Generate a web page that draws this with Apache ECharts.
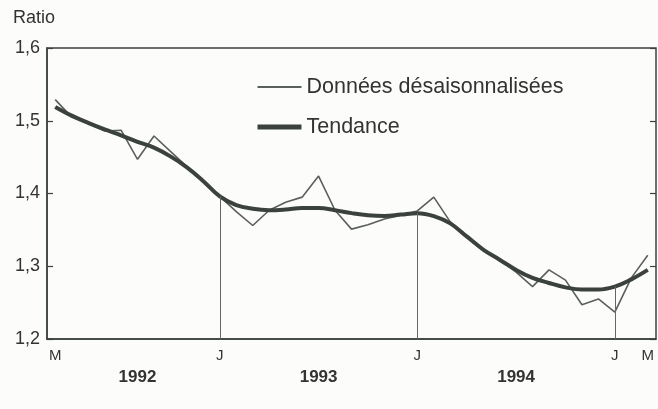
<!DOCTYPE html>
<html>
<head>
<meta charset="utf-8">
<script src="https://cdn.jsdelivr.net/npm/echarts@6/dist/echarts.min.js"></script>
<style>
  html, body { margin: 0; padding: 0; background: #fcfcfa; }
  #chart { width: 658px; height: 409px; }
</style>
</head>
<body>
<div id="chart"></div>
<script>
"use strict"

// one entry per month, March 1992 .. March 1995
const months = [
  "M", "A", "M", "J", "J", "A", "S", "O", "N", "D",
  "J", "F", "M", "A", "M", "J", "J", "A", "S", "O", "N", "D",
  "J", "F", "M", "A", "M", "J", "J", "A", "S", "O", "N", "D",
  "J", "F", "M"
];

// months that carry a letter under the axis
const labelledMonths = [0, 10, 22, 34, 36];

// january of 1993, 1994, 1995: a thin line up to the trend
const januaryIdx = [10, 22, 34];

const years = ["1992", "1993", "1994"];
const yearIdx = [5, 16, 28];

const yTicks = [1.2, 1.3, 1.4, 1.5, 1.6];

const rawData = [
  1.529, 1.505, 1.497, 1.486, 1.487, 1.447, 1.479, 1.458, 1.437, 1.417,
  1.396, 1.375, 1.356, 1.377, 1.388, 1.395, 1.424, 1.377, 1.351, 1.357, 1.365, 1.370,
  1.376, 1.395, 1.361, 1.340, 1.322, 1.309, 1.292, 1.272, 1.295, 1.281, 1.247, 1.255,
  1.237, 1.284, 1.315
];

const trendData = [
  1.519, 1.507, 1.497, 1.488, 1.480, 1.471, 1.463, 1.451, 1.436, 1.417,
  1.396, 1.384, 1.379, 1.377, 1.378, 1.380, 1.380, 1.377, 1.373, 1.370, 1.369, 1.371,
  1.373, 1.369, 1.359, 1.341, 1.323, 1.309, 1.295, 1.284, 1.277, 1.271, 1.268, 1.268,
  1.272, 1.282, 1.295
];

const ink = "#3b423e";
const font = "'Liberation Sans', Arial, Helvetica, sans-serif";

const chart = echarts.init(document.getElementById("chart"));

const januaryLines = januaryIdx.map((i) => [
  { coord: [i, yTicks[0]] },
  { coord: [i, trendData[i]] }
]);

chart.setOption({
  backgroundColor: "#fcfcfa",
  animation: false,
  title: {
    text: "Ratio",
    left: 11,
    top: 7,
    padding: 2,
    textStyle: { fontFamily: font, fontSize: 18, fontWeight: "normal", color: "#333" }
  },
  legend: {
    orient: "vertical",
    left: 255,
    top: 76,
    padding: 0,
    itemWidth: 44,
    itemHeight: 14,
    itemGap: 18,
    textStyle: { fontFamily: font, fontSize: 21.5, color: "#333" },
    itemStyle: { opacity: 0 },
    data: [
      { name: "Données désaisonnalisées", lineStyle: { width: 2, color: "#5b605d" } },
      { name: "Tendance", lineStyle: { width: 5, color: ink } }
    ]
  },
  grid: {
    left: 47,
    right: 2,
    top: 48,
    bottom: 70,
    show: true,
    borderColor: ink,
    borderWidth: 1.5,
    backgroundColor: "transparent"
  },
  xAxis: [
    {
      type: "category",
      data: months,
      boundaryGap: true,
      axisLine: { lineStyle: { color: ink, width: 1.5 } },
      axisTick: {
        alignWithLabel: true,
        inside: true,
        length: 5,
        interval: 0,
        lineStyle: { color: ink, width: 1.2 }
      },
      axisLabel: {
        interval: (i) => labelledMonths.includes(i),
        margin: 9,
        fontFamily: font,
        fontSize: 15,
        color: "#333"
      },
      splitLine: { show: false }
    },
    {
      type: "category",
      data: months,
      position: "bottom",
      offset: 22,
      boundaryGap: true,
      axisLine: { show: false },
      axisTick: { show: false },
      axisLabel: {
        interval: (i) => yearIdx.includes(i),
        formatter: (v, i) => years[yearIdx.indexOf(i)] || "",
        margin: 8,
        fontFamily: font,
        fontSize: 17,
        fontWeight: "bold",
        color: "#333"
      }
    }
  ],
  yAxis: [
    {
      type: "value",
      min: yTicks[0],
      max: yTicks[yTicks.length - 1],
      interval: 0.1,
      axisLine: { show: true, lineStyle: { color: ink, width: 1.5 } },
      axisTick: { show: true, inside: true, length: 6, lineStyle: { color: ink, width: 1.2 } },
      axisLabel: {
        margin: 7,
        fontFamily: font,
        fontSize: 18,
        color: "#333",
        formatter: (v) => v.toFixed(1).replace(".", ",")
      },
      splitLine: { show: false }
    },
    {
      type: "value",
      position: "right",
      min: yTicks[0],
      max: yTicks[yTicks.length - 1],
      interval: 0.1,
      axisLine: { show: false },
      axisTick: { show: true, inside: true, length: 6, lineStyle: { color: ink, width: 1.2 } },
      axisLabel: { show: false },
      splitLine: { show: false }
    }
  ],
  series: [
    {
      name: "Données désaisonnalisées",
      type: "line",
      data: rawData,
      symbol: "none",
      color: "#5b605d",
      lineStyle: { color: "#5b605d", width: 1.6 },
      z: 3
    },
    {
      name: "Tendance",
      type: "line",
      data: trendData,
      symbol: "none",
      smooth: 0.4,
      color: ink,
      lineStyle: { color: ink, width: 4 },
      z: 4,
      markLine: {
        silent: true,
        symbol: "none",
        label: { show: false },
        lineStyle: { color: "#666", width: 1, type: "solid" },
        data: januaryLines
      }
    }
  ]
});
</script>
</body>
</html>
